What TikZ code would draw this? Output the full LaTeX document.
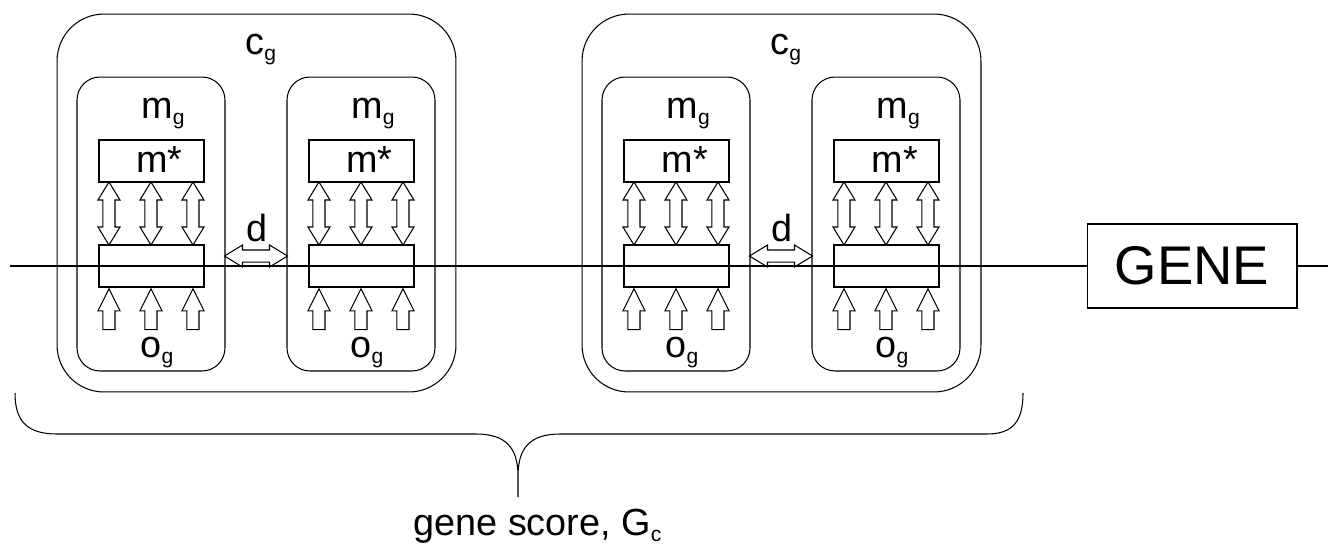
\documentclass[tikz,border=0pt]{standalone}
\usepackage{fontspec}
\setmainfont{Liberation Sans}
\usetikzlibrary{positioning,calc,shapes.arrows}
\newcommand\subtxt[1]{\raisebox{-3.5pt}{\fontsize{12}{13}\selectfont #1}}

\begin{document}
\begin{tikzpicture}[x=0.02cm, y=-0.02cm, line width=0.6pt,
  cluster/.style={draw, rounded corners=0.94cm, minimum width=7.98cm, minimum height=7.56cm, inner sep=0pt},
  module/.style={draw, rounded corners=0.46cm, minimum width=2.96cm, minimum height=5.88cm, inner sep=0pt},
  cell/.style={draw, minimum width=2.1cm, minimum height=0.84cm, inner sep=0pt},
  lbl/.style={font=\fontsize{21.5}{25}\selectfont, inner sep=0pt, anchor=base west},
  twoway/.style={double arrow, draw, inner xsep=0pt, inner ysep=0.11cm, double arrow head extend=0.1cm, double arrow tip angle=63, minimum height=1.26cm},
  upway/.style={single arrow, draw, inner xsep=0pt, inner ysep=0.11cm, single arrow head extend=0.1cm, single arrow tip angle=53, minimum height=0.82cm, rotate=90, anchor=tip},
]
\useasboundingbox (0,0) rectangle (1328,545);

% the strand and the gene
\coordinate (lstart) at (10,266);
\coordinate (lend) at (1328,266);
\node[draw, minimum width=4.2cm, minimum height=1.68cm, inner sep=0pt, font=\fontsize{31}{36}\selectfont] (gene) at (1192,266) {GENE\hspace{0.28cm}};
\draw (lstart) -- (gene.west);
\draw (gene.east) -- (lend);

% clusters
\foreach \q/\cx in {1/256.5, 2/781.5}{
  \node[cluster] (cg\q) at (\cx,203) {};
  \node[lbl] (cl\q) at ($(cg\q.north)+(-11.5,41)$) {c\subtxt{g}};
}

% modules
\foreach \m/\cx in {11/151, 12/361, 21/676, 22/886}{
  \node[module] (mg\m) at (\cx,224) {};
  \node[cell] (ms\m) at (\cx+0.5,161) {};
  \node[cell] (ob\m) at (\cx+0.5,266) {};
  \node[lbl] (ml\m) at ($(mg\m.north)+(-10,42)$) {m\subtxt{g}};
  \node[lbl] (sl\m) at ($(ms\m.north)+(-15.5,33)$) {m*};
  \node[lbl] (ol\m) at ($(mg\m.south)+(-11,-14)$) {o\subtxt{g}};
  \foreach \k/\dx in {1/10.5, 2/52.5, 3/94.5}{
    \node[twoway, rotate=90] (tw\m\k) at ($(ms\m.south west)!0.5!(ob\m.north west)+(\dx,0)$) {};
    \node[upway] (up\m\k) at ($(ob\m.south west)+(\dx,0)$) {};
  }
}

% distance between modules
\foreach \q in {1,2}{
  \node[twoway] (dd\q) at ($(mg\q1.east)!0.5!(mg\q2.west)+(0,32)$) {};
  \node[lbl, anchor=base] (dl\q) at ($(dd\q.center)+(1,-15)$) {d};
}

% brace
\coordinate (bl) at (15,393);
\coordinate (tip) at (518,497);
\coordinate (br) at (1023,393);
\draw (bl) .. controls (15,421) and (27,434) .. (57,434) -- (476,434)
  .. controls (506,434) and (518,448) .. (518,476) -- (tip)
  (tip) -- (518,476) .. controls (518,448) and (530,434) .. (560,434) -- (987,434)
  .. controls (1013,434) and (1023,421) .. (br);
\node[lbl, font=\fontsize{21.5}{25}\selectfont] (gs) at ($(tip)+(-105,38)$) {gene score, G\subtxt{c}};
\end{tikzpicture}
\end{document}
